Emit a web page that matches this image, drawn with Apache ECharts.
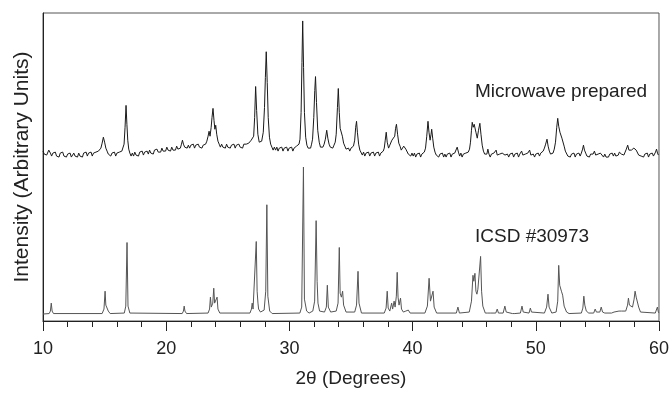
<!DOCTYPE html>
<html>
<head>
<meta charset="utf-8">
<script src="https://cdn.jsdelivr.net/npm/echarts@6/dist/echarts.min.js"></script>
<style>html,body{margin:0;padding:0;background:#fff}#c{width:672px;height:393px}</style>
</head>
<body>
<div id="c"></div>
<script>
// X axis ticks (2-theta, degrees)
var xTicks = [10, 20, 30, 40, 50, 60];
var seriesNames = ['Microwave prepared', 'ICSD #30973'];
var microwave = [[10.0,171],[10.1,168],[10.2,170],[10.3,167],[10.4,169],[10.47,172],[10.53,174],[10.6,169],[10.7,166],[10.8,169],[10.9,167],[11.0,170],[11.1,166],[11.2,168],[11.3,165],[11.4,169],[11.5,167],[11.6,170],[11.7,166],[11.8,168],[11.9,165],[12.0,168],[12.1,166],[12.2,169],[12.3,165],[12.4,167],[12.5,169],[12.6,166],[12.7,168],[12.8,165],[12.9,169],[13.0,166],[13.1,168],[13.2,165],[13.3,169],[13.4,167],[13.5,170],[13.6,166],[13.7,169],[13.8,167],[13.9,170],[14.0,166],[14.1,169],[14.2,167],[14.3,170],[14.4,168],[14.5,171],[14.6,169],[14.7,174],[14.8,179],[14.9,185],[15.0,180],[15.1,174],[15.2,171],[15.3,168],[15.4,170],[15.5,166],[15.6,169],[15.7,167],[15.8,170],[15.9,166],[16.0,169],[16.1,167],[16.2,170],[16.3,168],[16.4,171],[16.5,172],[16.58,178],[16.66,195],[16.74,217],[16.81,198],[16.88,182],[16.96,173],[17.05,169],[17.15,166],[17.25,169],[17.35,166],[17.45,170],[17.55,167],[17.65,169],[17.75,166],[17.85,170],[17.95,168],[18.05,171],[18.15,167],[18.25,170],[18.35,168],[18.45,171],[18.55,168],[18.65,172],[18.75,169],[18.85,171],[18.95,168],[19.05,172],[19.15,170],[19.25,173],[19.35,170],[19.45,172],[19.55,170],[19.65,174],[19.75,171],[19.85,173],[19.95,171],[20.05,175],[20.15,172],[20.25,174],[20.35,171],[20.45,175],[20.55,172],[20.65,174],[20.75,172],[20.85,176],[20.95,173],[21.05,175],[21.15,174],[21.24,178],[21.32,182],[21.4,178],[21.5,175],[21.6,177],[21.7,174],[21.8,177],[21.9,174],[22.0,177],[22.1,175],[22.2,178],[22.3,174],[22.4,177],[22.5,175],[22.6,178],[22.7,175],[22.8,177],[22.9,174],[23.0,177],[23.1,175],[23.2,178],[23.3,181],[23.4,186],[23.48,191],[23.56,186],[23.65,195],[23.72,205],[23.8,214],[23.88,202],[23.95,193],[24.02,197],[24.1,188],[24.2,181],[24.3,178],[24.4,175],[24.5,178],[24.6,175],[24.7,177],[24.8,174],[24.9,178],[25.0,175],[25.1,177],[25.2,174],[25.3,177],[25.4,175],[25.5,178],[25.6,174],[25.7,177],[25.8,175],[25.9,178],[26.0,175],[26.1,177],[26.2,174],[26.3,178],[26.4,176],[26.5,178],[26.6,176],[26.7,179],[26.8,178],[26.9,182],[27.0,180],[27.1,186],[27.18,205],[27.26,236],[27.34,212],[27.44,188],[27.55,180],[27.65,178],[27.75,181],[27.88,190],[27.98,215],[28.05,245],[28.12,271],[28.2,240],[28.28,205],[28.38,185],[28.48,178],[28.58,175],[28.68,172],[28.78,175],[28.88,172],[28.98,175],[29.08,171],[29.18,174],[29.28,172],[29.38,175],[29.48,171],[29.58,174],[29.68,172],[29.78,175],[29.88,171],[29.98,174],[30.08,172],[30.18,175],[30.28,171],[30.38,174],[30.48,172],[30.58,176],[30.68,174],[30.78,178],[30.86,183],[30.95,210],[31.02,260],[31.08,302],[31.15,255],[31.22,210],[31.32,185],[31.42,177],[31.52,174],[31.62,176],[31.72,174],[31.8,178],[31.88,183],[31.98,205],[32.06,232],[32.12,246],[32.2,220],[32.3,192],[32.42,180],[32.52,175],[32.62,177],[32.72,175],[32.82,178],[32.92,183],[33.03,192],[33.12,184],[33.22,178],[33.32,175],[33.42,177],[33.52,174],[33.62,177],[33.72,180],[33.8,188],[33.9,215],[33.97,234],[34.05,210],[34.12,194],[34.2,193],[34.3,186],[34.4,179],[34.5,176],[34.6,173],[34.7,171],[34.8,174],[34.9,171],[35.0,174],[35.1,172],[35.2,176],[35.3,182],[35.38,195],[35.45,201],[35.52,190],[35.62,178],[35.72,172],[35.82,170],[35.92,167],[36.02,170],[36.12,166],[36.22,169],[36.32,167],[36.42,170],[36.52,166],[36.62,169],[36.72,167],[36.82,170],[36.92,166],[37.02,169],[37.12,167],[37.22,170],[37.32,166],[37.42,169],[37.52,168],[37.62,171],[37.7,174],[37.78,182],[37.86,190],[37.94,180],[38.05,174],[38.15,177],[38.25,179],[38.32,182],[38.37,183],[38.45,180],[38.55,186],[38.62,194],[38.69,198],[38.78,188],[38.88,179],[38.98,176],[39.08,172],[39.18,174],[39.28,176],[39.37,178],[39.45,173],[39.55,171],[39.65,168],[39.75,170],[39.85,166],[39.95,169],[40.05,166],[40.15,169],[40.25,165],[40.35,168],[40.45,166],[40.55,169],[40.65,165],[40.75,168],[40.85,166],[40.95,170],[41.05,174],[41.15,186],[41.25,201],[41.33,190],[41.42,182],[41.5,188],[41.55,193],[41.63,184],[41.72,175],[41.82,170],[41.92,167],[42.02,169],[42.12,165],[42.22,168],[42.32,166],[42.42,169],[42.52,165],[42.62,168],[42.72,165],[42.82,168],[42.92,166],[43.02,169],[43.12,165],[43.22,168],[43.32,166],[43.42,169],[43.52,171],[43.62,175],[43.72,170],[43.82,166],[43.92,169],[44.02,165],[44.12,168],[44.22,166],[44.32,169],[44.42,167],[44.52,170],[44.62,173],[44.7,180],[44.78,192],[44.84,200],[44.92,195],[45.0,198],[45.06,199],[45.14,190],[45.25,184],[45.35,192],[45.46,199],[45.55,188],[45.65,177],[45.75,171],[45.85,168],[45.95,170],[46.03,168],[46.11,173],[46.2,168],[46.3,165],[46.4,168],[46.5,166],[46.6,169],[46.7,168],[46.78,172],[46.87,167],[46.97,165],[47.07,168],[47.17,166],[47.27,169],[47.35,170],[47.42,171],[47.5,167],[47.6,165],[47.7,168],[47.8,165],[47.9,168],[48.0,166],[48.1,169],[48.2,165],[48.3,168],[48.4,166],[48.5,169],[48.6,165],[48.7,168],[48.78,170],[48.85,171],[48.95,167],[49.05,165],[49.15,168],[49.25,166],[49.35,169],[49.42,170],[49.5,172],[49.6,167],[49.7,165],[49.8,168],[49.9,165],[50.0,168],[50.1,166],[50.2,169],[50.3,166],[50.4,169],[50.5,167],[50.6,171],[50.7,174],[50.8,178],[50.91,183],[51.0,176],[51.1,171],[51.2,168],[51.3,170],[51.4,169],[51.5,173],[51.6,180],[51.7,195],[51.78,204],[51.86,196],[51.96,190],[52.04,188],[52.12,184],[52.2,182],[52.3,176],[52.4,171],[52.5,169],[52.6,166],[52.7,168],[52.8,165],[52.9,168],[53.0,166],[53.1,169],[53.2,165],[53.3,168],[53.4,166],[53.5,169],[53.6,166],[53.7,169],[53.8,173],[53.87,177],[53.95,172],[54.05,169],[54.15,166],[54.25,168],[54.35,165],[54.45,168],[54.55,166],[54.65,168],[54.76,171],[54.86,167],[54.96,165],[55.06,168],[55.16,166],[55.24,169],[55.31,171],[55.4,167],[55.5,165],[55.6,168],[55.7,165],[55.8,167],[55.9,165],[56.0,168],[56.1,166],[56.2,169],[56.3,166],[56.4,169],[56.5,166],[56.6,168],[56.7,167],[56.78,170],[56.85,172],[56.95,168],[57.05,170],[57.15,167],[57.25,170],[57.35,173],[57.46,177],[57.56,172],[57.66,170],[57.76,172],[57.86,171],[57.96,174],[58.06,176],[58.15,172],[58.25,170],[58.35,167],[58.45,169],[58.55,166],[58.65,168],[58.75,165],[58.85,168],[58.95,166],[59.05,169],[59.15,165],[59.25,168],[59.35,166],[59.45,169],[59.55,166],[59.65,168],[59.72,170],[59.8,173],[59.88,169],[59.95,167],[60.0,168]];
// Calculated reference pattern: [2theta, intensity]
var icsd = [[10.0,7],[10.5,7.5],[10.6,10],[10.67,18],[10.74,10],[10.85,7.5],[14.8,7.5],[14.95,12],[15.04,30],[15.1,16],[15.18,14],[15.23,15],[15.3,10],[15.45,7.5],[16.6,8],[16.72,15],[16.82,79],[16.9,15],[17.05,8],[21.3,7.5],[21.4,10],[21.46,15],[21.52,10],[21.65,7.5],[23.4,8],[23.52,12],[23.59,24],[23.66,14],[23.78,18],[23.86,33],[23.93,18],[24.06,16],[24.13,24],[24.2,12],[24.35,8],[26.8,8],[26.92,12],[26.98,18],[27.05,12],[27.2,14],[27.31,80],[27.38,30],[27.45,18],[27.5,12],[27.65,9],[27.95,11],[28.08,30],[28.17,117],[28.25,25],[28.4,10],[28.6,7.5],[30.85,8],[31.0,14],[31.14,155],[31.22,22],[31.4,10],[31.6,8],[31.9,10],[32.05,20],[32.17,101],[32.25,40],[32.32,18],[32.45,10],[32.85,9],[33.0,14],[33.08,36],[33.16,14],[33.35,9],[33.8,10],[33.95,18],[34.05,74],[34.12,28],[34.22,24],[34.32,30],[34.4,16],[34.6,9],[35.3,9],[35.45,16],[35.57,50],[35.65,18],[35.85,8],[37.7,8],[37.85,13],[37.94,30],[38.02,13],[38.15,10],[38.3,18],[38.38,12],[38.5,20],[38.58,14],[38.68,25],[38.75,49],[38.82,24],[38.9,16],[39.02,23],[39.1,12],[39.25,9],[39.45,10],[39.55,12],[39.65,11],[39.8,8],[41.0,8],[41.2,15],[41.34,43],[41.45,20],[41.55,18],[41.66,30],[41.75,14],[41.95,8],[43.55,8],[43.68,14],[43.8,8],[44.6,9],[44.78,20],[44.9,46],[44.97,40],[45.06,48],[45.14,30],[45.22,27],[45.3,32],[45.4,30],[45.52,65],[45.6,30],[45.7,15],[45.9,8],[46.1,8],[46.2,10],[46.3,8],[46.75,8],[46.87,12],[46.97,8],[47.35,8],[47.49,15],[47.6,9],[47.75,8],[48.1,7.5],[48.2,9],[48.3,7.5],[48.75,8],[48.88,15],[48.98,9],[49.1,8],[49.45,8],[49.56,13],[49.65,9],[49.8,7.5],[50.7,8],[50.88,14],[50.99,27],[51.08,14],[51.3,8],[51.65,9],[51.78,20],[51.86,56],[51.94,36],[51.99,37],[52.08,30],[52.18,26],[52.3,15],[52.5,9],[52.7,7.5],[53.7,8],[53.82,13],[53.9,25],[53.98,16],[54.1,10],[54.3,8],[54.7,8],[54.82,12],[54.92,9],[55.2,9],[55.31,14],[55.42,9],[55.6,8],[56.15,8],[56.25,9],[56.35,9],[56.5,8],[56.75,10],[56.85,12],[56.95,10],[57.3,10],[57.45,16],[57.52,23],[57.6,16],[57.74,15],[57.85,14],[57.98,22],[58.06,30],[58.15,24],[58.25,25],[58.35,14],[58.5,9],[59.7,8],[59.8,10],[59.87,14],[59.95,9],[60.0,8]];

var FONT = '"Liberation Sans", Arial, Helvetica, sans-serif';
var chart = echarts.init(document.getElementById('c'), null, {renderer: 'canvas'});
chart.setOption({
  animation: false,
  backgroundColor: '#fff',
  textStyle: {fontFamily: FONT},
  grid: {left: 43, right: 11, top: 13, bottom: 70, show: true, borderColor: '#555', borderWidth: 1, backgroundColor: 'transparent'},
  xAxis: {
    type: 'value', min: xTicks[0], max: xTicks[xTicks.length - 1], interval: 10,
    name: '2\u03b8 (Degrees)', nameLocation: 'middle', nameGap: 48,
    nameTextStyle: {fontSize: 19, color: '#222', fontFamily: FONT},
    axisLine: {show: true, lineStyle: {color: '#222', width: 1}},
    axisTick: {show: true, length: 10, lineStyle: {color: '#222'}},
    minorTick: {show: true, splitNumber: 5, length: 6, lineStyle: {color: '#222'}},
    axisLabel: {fontSize: 18, color: '#222', margin: 19, fontFamily: FONT},
    splitLine: {show: false}
  },
  yAxis: {
    type: 'value', min: 0, max: 310,
    name: 'Intensity (Arbitrary Units)', nameLocation: 'middle', nameGap: 10,
    nameTextStyle: {fontSize: 21, color: '#222', fontFamily: FONT},
    axisLine: {show: true, lineStyle: {color: '#222', width: 1}},
    axisTick: {show: false}, axisLabel: {show: false}, splitLine: {show: false}
  },
  series: [
    {name: seriesNames[0], type: 'line', data: microwave, showSymbol: false, symbol: 'none',
     lineStyle: {color: '#1a1a1a', width: 1}, z: 3},
    {name: seriesNames[1], type: 'line', data: icsd, showSymbol: false, symbol: 'none',
     lineStyle: {color: '#555', width: 1}, z: 3}
  ],
  graphic: [
    {type: 'text', left: 475, top: 82, style: {text: seriesNames[0], fontSize: 19, fill: '#222', fontFamily: FONT}},
    {type: 'text', left: 475, top: 227, style: {text: seriesNames[1], fontSize: 19, fill: '#222', fontFamily: FONT}}
  ]
});
</script>
</body>
</html>
